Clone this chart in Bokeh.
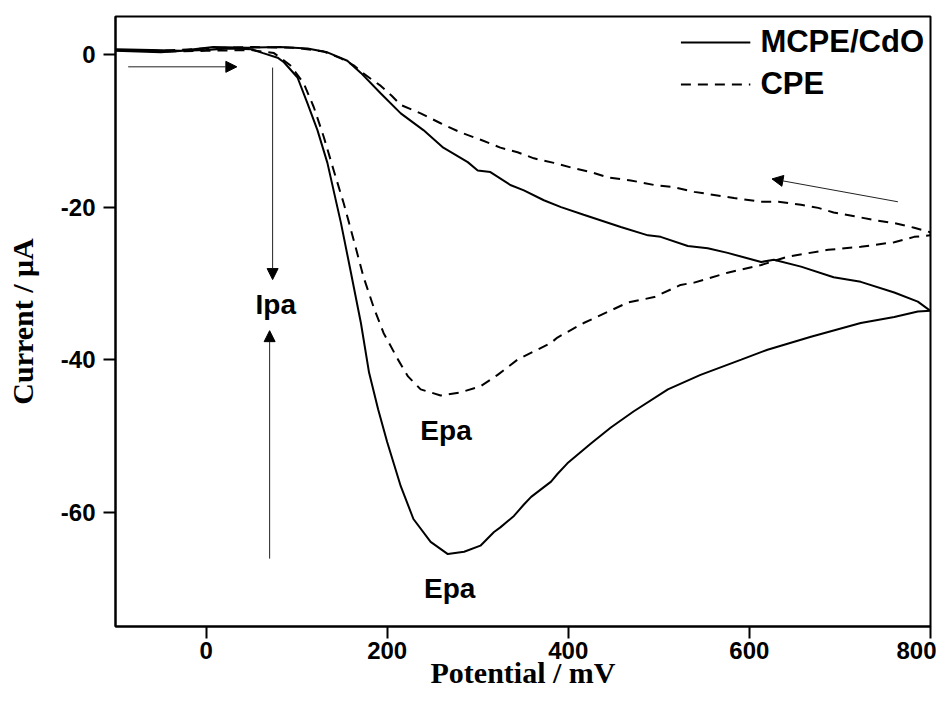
from bokeh.plotting import figure
from bokeh.models import Range1d, FixedTicker, Arrow, NormalHead, Legend, LegendItem
from bokeh.core.properties import value
from bokeh.embed import file_html
from bokeh.resources import INLINE

# ---- data (potential in mV, current in uA) ----
mcpe_fwd_E = [-100, -75, -50, -25, 0, 25, 50, 63, 79, 86, 101, 112, 123, 134, 145, 149, 160, 171, 180, 190,
              200, 215, 229, 248, 267, 285, 303, 318, 325, 340, 351, 359, 381, 388, 399, 425, 447, 472,
              510, 546, 591, 620, 668, 723, 760, 786, 800]
mcpe_fwd_I = [0.5, 0.4, 0.3, 0.5, 0.6, 0.8, 0.7, 0.2, -0.4, -1.0, -3.0, -6.4, -9.9, -14.2, -20.0, -22.1, -28.6,
              -35.2, -41.7, -46.5, -50.8, -56.6, -60.9, -63.9, -65.5, -65.2, -64.4, -62.6, -62.0, -60.5, -59.0,
              -58.0, -56.0, -55.0, -53.6, -51.0, -48.9, -46.8, -43.9, -42.0, -40.0, -38.7, -37.0, -35.2,
              -34.4, -33.7, -33.6]
mcpe_rev_E = [800, 786, 760, 723, 693, 657, 627, 613, 576, 554, 532, 502, 488, 458, 417, 392, 373, 351, 336,
              314, 300, 289, 262, 240, 215, 193, 171, 156, 134, 112, 82, 46, 8, -28, -60, -100]
mcpe_rev_I = [-33.6, -32.4, -31.2, -29.8, -29.2, -27.8, -26.9, -27.2, -26.0, -25.4, -25.1, -23.9, -23.7, -22.6,
              -21.0, -20.0, -19.1, -17.8, -17.1, -15.4, -15.2, -14.1, -12.2, -9.9, -7.7, -5.1, -2.4, -0.8, 0.3,
              0.8, 1.0, 0.9, 1.0, 0.5, 0.6, 0.7]

cpe_fwd_E = [-100, -50, 0, 50, 75, 93, 108, 119, 130, 141, 152, 158, 163, 174, 185, 196, 212, 223, 237, 259,
             281, 303, 322, 344, 381, 388, 417, 466, 495, 524, 539, 576, 613, 642, 687, 723, 760, 782, 800]
cpe_fwd_I = [0.6, 0.4, 0.5, 0.6, 0.2, -1.4, -3.8, -6.9, -10.8, -15.2, -19.5, -22.1, -24.3, -29.2, -33.1, -36.5,
             -40.0, -42.2, -43.9, -44.7, -44.3, -43.5, -42.0, -40.0, -37.8, -37.1, -35.2, -32.5, -31.8, -30.2,
             -29.9, -28.6, -27.6, -26.5, -25.6, -25.2, -24.6, -23.9, -23.7]
cpe_rev_E = [800, 782, 760, 738, 716, 693, 676, 657, 632, 613, 583, 561, 539, 517, 495, 469, 444, 425, 406,
             384, 362, 344, 325, 304, 281, 259, 237, 215, 205, 193, 174, 163, 149, 130, 100, 50, 0, -50, -100]
cpe_rev_I = [-23.3, -22.7, -22.1, -21.7, -21.2, -20.7, -20.1, -19.7, -19.3, -19.3, -18.8, -18.4, -18.0, -17.4,
             -17.1, -16.5, -16.1, -15.4, -14.9, -14.2, -13.6, -12.8, -12.2, -11.2, -10.2, -9.0, -7.7, -6.6,
             -5.4, -4.1, -2.5, -1.4, -0.5, 0.4, 0.9, 1.0, 0.8, 0.5, 0.6]

x_ticks = [0, 200, 400, 600, 800]
y_ticks = [-60, -40, -20, 0]
y_tick_labels = ["-60", "-40", "-20", "0"]

# annotations
note_text = ["Ipa", "Epa", "Epa"]
note_x = [77, 265, 269]
note_y = [-32.8, -49.3, -70.0]

arrow_x0 = [-86, 73.5, 70.2, 764]
arrow_y0 = [-1.6, -1.7, -66.1, -19.3]
arrow_x1 = [34, 73.5, 70.2, 625]
arrow_y1 = [-1.6, -29.5, -36.2, -16.3]

# ---- figure ----
p = figure(width=936, height=695, x_range=Range1d(-100, 800), y_range=Range1d(-75, 5),
           output_backend="svg", toolbar_location=None,
           min_border_left=115, min_border_right=6, min_border_top=16, min_border_bottom=69)
p.grid.visible = False
p.outline_line_color = "black"
p.outline_line_width = 2
p.background_fill_color = "white"
p.border_fill_color = "white"

for ax in (p.xaxis[0], p.yaxis[0]):
    ax.axis_line_width = 2
    ax.major_tick_line_width = 2
    ax.major_tick_out = 12
    ax.major_tick_in = 0
    ax.minor_tick_out = 0
    ax.minor_tick_in = 0
    ax.major_label_text_font = "Liberation Sans"
    ax.major_label_text_font_style = "bold"
    ax.major_label_text_font_size = "24px"
    ax.major_label_text_color = "black"
    ax.axis_label_text_font = "Liberation Serif"
    ax.axis_label_text_font_style = "bold"
    ax.axis_label_text_font_size = "30px"
    ax.axis_label_text_color = "black"

p.xaxis[0].ticker = FixedTicker(ticks=x_ticks)
p.yaxis[0].ticker = FixedTicker(ticks=y_ticks)
p.yaxis[0].major_label_overrides = dict(zip(y_ticks, y_tick_labels))
p.xaxis[0].axis_label = "Potential / mV"
p.yaxis[0].axis_label = "Current / μA"
p.xaxis[0].major_label_standoff = 3
p.xaxis[0].axis_label_standoff = -6
p.yaxis[0].major_label_standoff = 8
p.yaxis[0].axis_label_standoff = 19

r1 = p.line(mcpe_fwd_E + mcpe_rev_E, mcpe_fwd_I + mcpe_rev_I, line_color="black", line_width=2)
r2 = p.line(cpe_fwd_E + cpe_rev_E, cpe_fwd_I + cpe_rev_I, line_color="black", line_width=2,
            line_dash="10 7")

p.text(x=note_x, y=note_y, text=note_text, text_font=value("Liberation Sans"), text_font_style="bold",
       text_font_size="28px", text_align="center", text_baseline="alphabetic", text_color="black")

for xs, ys, xe, ye in zip(arrow_x0, arrow_y0, arrow_x1, arrow_y1):
    p.add_layout(Arrow(end=NormalHead(size=11, fill_color="black", line_color="black", line_width=1),
                       x_start=xs, y_start=ys, x_end=xe, y_end=ye, line_color="#222222", line_width=1))

legend = Legend(items=[LegendItem(label="MCPE/CdO", renderers=[r1]), LegendItem(label="CPE", renderers=[r2])],
                location="top_right", border_line_color=None, background_fill_alpha=0,
                label_text_font="Liberation Sans", label_text_font_style="bold", label_text_font_size="31px",
                label_text_color="black",
                glyph_width=70, glyph_height=40, label_height=40, label_standoff=10, spacing=2,
                padding=13, margin=6)
p.add_layout(legend)

open("out.html", "w").write(file_html(p, INLINE))
